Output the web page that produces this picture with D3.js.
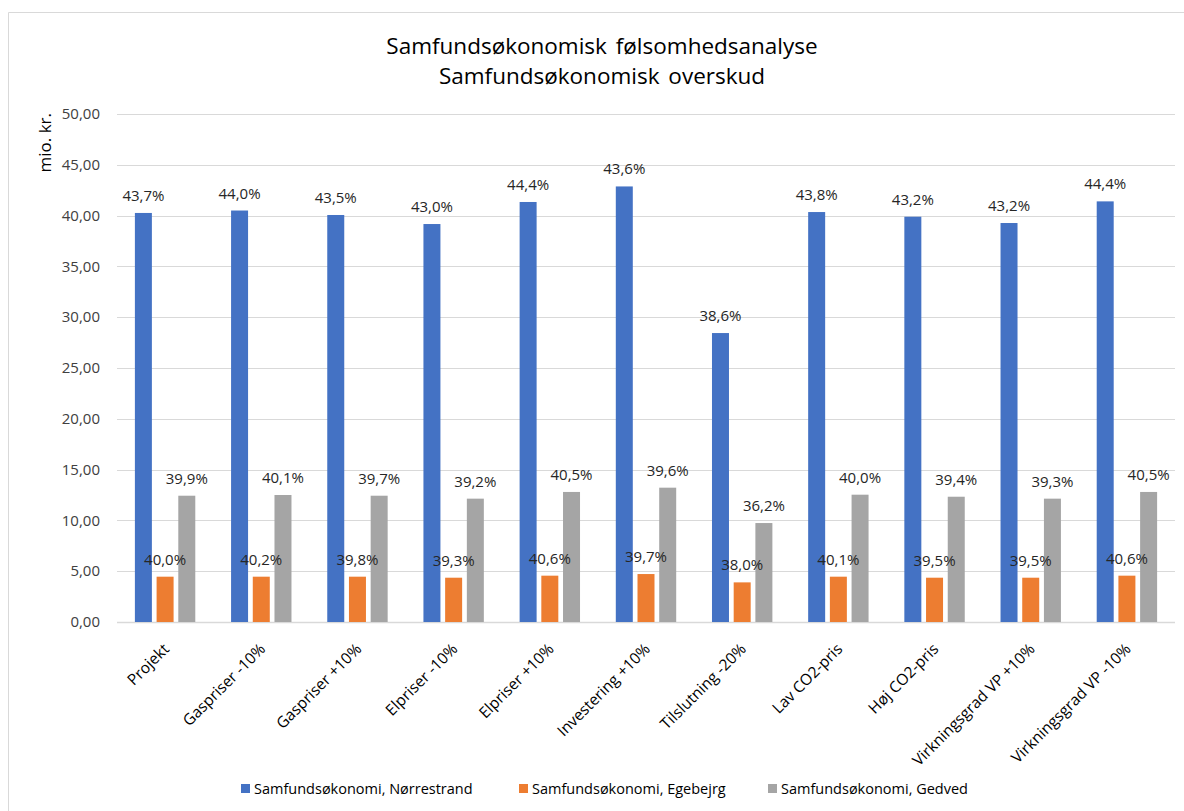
<!DOCTYPE html>
<html>
<head>
<meta charset="utf-8">
<script src="https://cdn.jsdelivr.net/npm/d3@7"></script>
<style>
  body { margin: 0; background: #fff; }
  text { font-family: "Open Sans", "Noto Sans", sans-serif; fill: #404040; }
</style>
</head>
<body>
<div id="chart"></div>
<script>
var width = 1184;
var height = 811;

var titleLines = ["Samfundsøkonomisk følsomhedsanalyse", "Samfundsøkonomisk overskud"];
var yLabel = "mio. kr.";

var categories = ["Projekt", "Gaspriser -10%", "Gaspriser +10%", "Elpriser -10%", "Elpriser +10%",
  "Investering +10%", "Tilslutning -20%", "Lav CO2-pris", "Høj CO2-pris",
  "Virkningsgrad VP +10%", "Virkningsgrad VP -10%"];

var seriesNames = ["Samfundsøkonomi, Nørrestrand", "Samfundsøkonomi, Egebejrg", "Samfundsøkonomi, Gedved"];
var seriesColors = ["#4472C4", "#ED7D31", "#A5A5A5"];

// mio. kr.
var norrestrand = [40.26, 40.50, 40.06, 39.17, 41.34, 42.87, 28.44, 40.35, 39.89, 39.27, 41.40];
var egebjerg    = [4.46, 4.46, 4.46, 4.36, 4.56, 4.72, 3.90, 4.46, 4.36, 4.36, 4.56];
var gedved      = [12.43, 12.50, 12.43, 12.14, 12.80, 13.22, 9.74, 12.53, 12.33, 12.14, 12.80];

// data labels (percent)
var norrestrandPct = ["43,7%", "44,0%", "43,5%", "43,0%", "44,4%", "43,6%", "38,6%", "43,8%", "43,2%", "43,2%", "44,4%"];
var egebjergPct    = ["40,0%", "40,2%", "39,8%", "39,3%", "40,6%", "39,7%", "38,0%", "40,1%", "39,5%", "39,5%", "40,6%"];
var gedvedPct      = ["39,9%", "40,1%", "39,7%", "39,2%", "40,5%", "39,6%", "36,2%", "40,0%", "39,4%", "39,3%", "40,5%"];

var yTicks = [0, 5, 10, 15, 20, 25, 30, 35, 40, 45, 50];

var values = [norrestrand, egebjerg, gedved];
var pcts = [norrestrandPct, egebjergPct, gedvedPct];

var rows = [];
categories.forEach(function(c, i) {
  seriesNames.forEach(function(s, j) {
    rows.push({ cat: c, series: s, idx: j, value: values[j][i], label: pcts[j][i] });
  });
});

var plot = { left: 117, right: 1175, top: 114, bottom: 622 };

var svg = d3.select("#chart").append("svg")
  .attr("width", width)
  .attr("height", height);

// chart border (left + top visible)
svg.append("path")
  .attr("d", "M8.5," + height + "V12.5H" + width)
  .attr("fill", "none")
  .attr("stroke", "#d9d9d9");

var x = d3.scaleBand()
  .domain(categories)
  .range([plot.left, plot.right]);

var xInner = d3.scaleBand()
  .domain(seriesNames)
  .range([-30.2, 30.2])
  .paddingInner(0.217);

var y = d3.scaleLinear()
  .domain([0, 50])
  .range([plot.bottom, plot.top]);

// gridlines
svg.append("g").selectAll("line")
  .data(yTicks)
  .enter().append("line")
    .attr("x1", plot.left)
    .attr("x2", plot.right)
    .attr("y1", function(d) { return Math.round(y(d)) + 0.5; })
    .attr("y2", function(d) { return Math.round(y(d)) + 0.5; })
    .attr("stroke", "#d9d9d9")
    .attr("stroke-width", function(d) { return d === 0 ? 1.5 : 1; });

// y tick labels
svg.append("g").selectAll("text")
  .data(yTicks)
  .enter().append("text")
    .attr("x", 100)
    .attr("y", function(d) { return y(d); })
    .attr("dy", "0.35em")
    .attr("text-anchor", "end")
    .style("font-size", "15px")
    .text(function(d) { return d3.format(".2f")(d).replace(".", ","); });

// y axis title
svg.append("text")
  .attr("transform", "translate(51,113) rotate(-90)")
  .attr("text-anchor", "end")
  .style("font-size", "17px")
  .style("fill", "#000")
  .text(yLabel);

// bars
svg.append("g").selectAll("rect")
  .data(rows)
  .enter().append("rect")
    .attr("x", function(d) { return x(d.cat) + x.bandwidth() / 2 + xInner(d.series); })
    .attr("y", function(d) { return y(d.value); })
    .attr("width", xInner.bandwidth())
    .attr("height", function(d) { return y(0) - y(d.value); })
    .attr("fill", function(d) { return seriesColors[d.idx]; });

// data labels
svg.append("g").selectAll("text")
  .data(rows)
  .enter().append("text")
    .attr("x", function(d) { return x(d.cat) + x.bandwidth() / 2 + xInner(d.series) + xInner.bandwidth() / 2; })
    .attr("y", function(d) { return y(d.value) - 12; })
    .attr("text-anchor", "middle")
    .style("font-size", "15px")
    .style("fill", "#262626")
    .text(function(d) { return d.label; });

// x labels
svg.append("g").selectAll("text")
  .data(categories)
  .enter().append("text")
    .attr("transform", function(d) {
      return "translate(" + (x(d) + x.bandwidth() / 2 + 5) + "," + 650 + ") rotate(-45)";
    })
    .attr("text-anchor", "end")
    .style("font-size", "15.5px")
    .style("fill", "#000")
    .text(function(d) { return d; });

// title
svg.append("g").selectAll("text")
  .data(titleLines)
  .enter().append("text")
    .attr("x", 602)
    .attr("y", function(d, i) { return 54 + i * 30; })
    .attr("text-anchor", "middle")
    .style("font-size", "22.5px")
    .style("word-spacing", "3px")
    .style("fill", "#000")
    .text(function(d) { return d; });

// legend
var legendX = [241, 519, 768];
var legend = svg.append("g").selectAll("g")
  .data(seriesNames)
  .enter().append("g")
    .attr("transform", function(d, i) { return "translate(" + legendX[i] + ",789)"; });

legend.append("rect")
  .attr("x", 0)
  .attr("y", -5)
  .attr("width", 9)
  .attr("height", 9)
  .attr("fill", function(d, i) { return seriesColors[i]; });

legend.append("text")
  .attr("x", 13)
  .attr("dy", "0.35em")
  .style("font-size", "14.5px")
  .style("fill", "#000")
  .text(function(d) { return d; });
</script>
</body>
</html>
